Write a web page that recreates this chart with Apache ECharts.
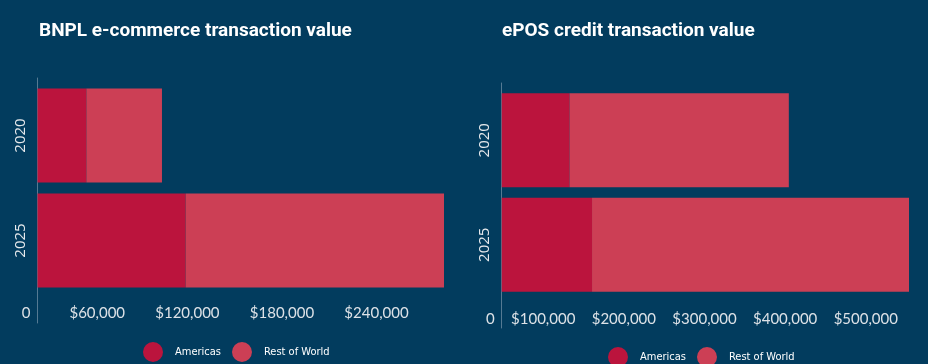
<!DOCTYPE html>
<html>
<head>
<meta charset="utf-8">
<script src="https://cdn.jsdelivr.net/npm/echarts@6/dist/echarts.min.js"></script>
<style>
html,body{margin:0;padding:0;background:#023c5e;}
#c{width:928px;height:364px;}
</style>
</head>
<body>
<div id="c"></div>
<script>
var categories = ['2020', '2025'];
var seriesNames = ['Americas', 'Rest of World'];
var bnplAmericas = [31000, 94000];
var bnplRest = [48000, 164000];
var eposAmericas = [84000, 112000];
var eposRest = [272000, 393000];
var bnplInterval = 60000;
var eposInterval = 100000;
var titles = ['BNPL e-commerce transaction value', 'ePOS credit transaction value'];

var colAm = '#bb143d';
var colRw = '#cc3f55';
var axisCol = '#557a93';

function fmt(v){ return v === 0 ? '0' : '$' + v.toLocaleString('en-US'); }

var chart = echarts.init(document.getElementById('c'));

function xAxisFor(gi, interval, margin){
  return {
    type: 'value', gridIndex: gi, min: 0, max: 'dataMax', interval: interval,
    axisLine: {show: false}, axisTick: {show: false}, splitLine: {show: false},
    axisLabel: {
      showMaxLabel: false, formatter: fmt, align: 'right', padding: [0, 7, 0, 0],
      margin: margin, color: '#dde2e7', fontFamily: 'Lato', fontSize: 15
    }
  };
}
function yAxisFor(gi){
  return {
    type: 'category', gridIndex: gi, data: categories, inverse: true,
    axisLine: {show: false}, axisTick: {show: false}, splitLine: {show: false},
    axisLabel: {rotate: 90, margin: 9, color: '#e6e9ec', fontFamily: 'Open Sans', fontSize: 15}
  };
}
function lineAxes(gi){
  return [
    {type: 'value', gridIndex: gi, show: false},
    {type: 'value', gridIndex: gi, axisLine: {show: true, lineStyle: {color: axisCol, width: 1}},
     axisLabel: {show: false}, axisTick: {show: false}, splitLine: {show: false}}
  ];
}
var la = lineAxes(2), lb = lineAxes(3);

function bar(name, data, gi, stack, color){
  return {
    name: name, type: 'bar', stack: stack, xAxisIndex: gi, yAxisIndex: gi,
    data: data, barWidth: 94, silent: true,
    itemStyle: {color: color}
  };
}

var legendCommon = {
  data: seriesNames, icon: 'circle', itemWidth: 20, itemHeight: 20, itemGap: 11,
  selectedMode: false,
  textStyle: {color: '#ffffff', fontFamily: '"DejaVu Sans Condensed", Lato, sans-serif', fontSize: 11, padding: [0, 0, 0, 7]}
};

chart.setOption({
  backgroundColor: '#023c5e',
  animation: false,
  color: [colAm, colRw],
  title: [
    {text: titles[0], left: 34, top: 17, textStyle: {color: '#ffffff', fontFamily: 'Roboto', fontWeight: 'bold', fontSize: 19}},
    {text: titles[1], left: 497, top: 17, textStyle: {color: '#ffffff', fontFamily: 'Roboto', fontWeight: 'bold', fontSize: 19}}
  ],
  legend: [
    Object.assign({left: 138, top: 337}, legendCommon),
    Object.assign({left: 603, top: 342}, legendCommon)
  ],
  grid: [
    {left: 37.5, top: 83, width: 406.5, height: 210},
    {left: 501.7, top: 88, width: 407.3, height: 209},
    {left: 37, top: 78, width: 10, height: 245},
    {left: 501.5, top: 83, width: 10, height: 245}
  ],
  xAxis: [xAxisFor(0, bnplInterval, 13), xAxisFor(1, eposInterval, 15), la[0], lb[0]],
  yAxis: [yAxisFor(0), yAxisFor(1), la[1], lb[1]],
  series: [
    bar(seriesNames[0], bnplAmericas, 0, 'a', colAm),
    bar(seriesNames[1], bnplRest, 0, 'a', colRw),
    bar(seriesNames[0], eposAmericas, 1, 'b', colAm),
    bar(seriesNames[1], eposRest, 1, 'b', colRw)
  ]
});
</script>
</body>
</html>
